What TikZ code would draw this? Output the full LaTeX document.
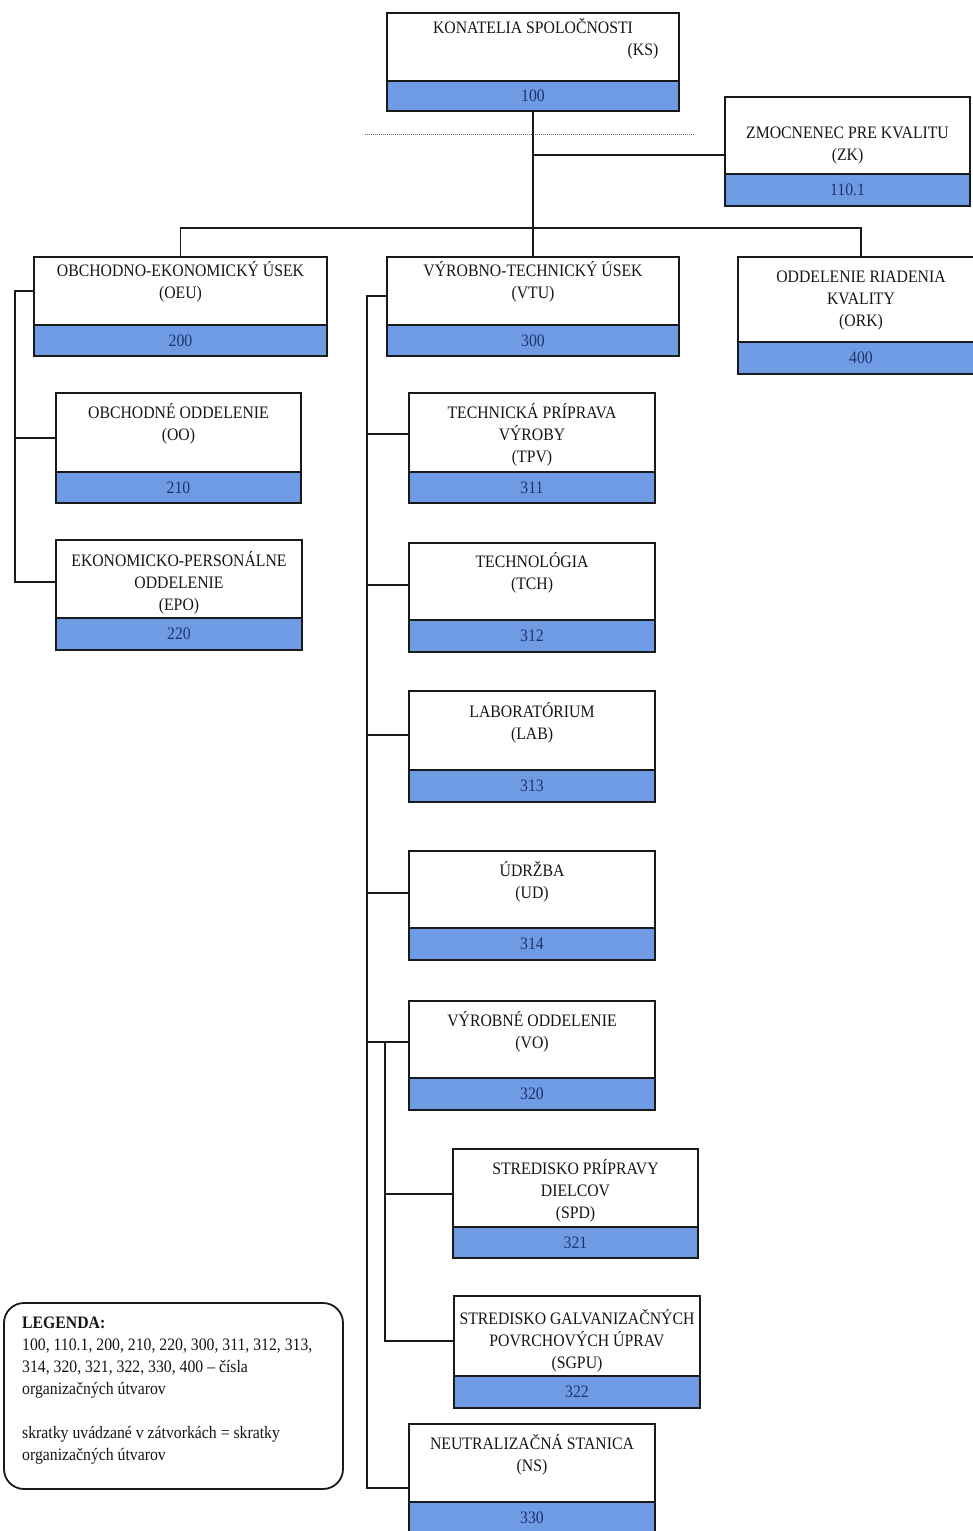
\documentclass[tikz,border=0pt]{standalone}
\usepackage{fontspec}
\setmainfont{Liberation Serif}[FakeStretch=0.9]
\definecolor{bandblue}{HTML}{6F9BE5}
\definecolor{numblue}{HTML}{1E346E}
\definecolor{inkc}{HTML}{1A1A1A}
\definecolor{txtc}{HTML}{151515}
\tikzset{
  wbox/.style={draw=inkc, line width=1.8pt, fill=white, inner sep=0pt},
  nbox/.style={draw=inkc, line width=1.8pt, fill=bandblue, inner sep=0pt, text=numblue,
    font=\fontsize{17.5}{22}\selectfont},
  lbl/.style={inner sep=0pt, text=txtc, font=\fontsize{17.5}{22}\selectfont},
  conn/.style={draw=inkc, line width=1.8pt},
  dotline/.style={draw=gray!80!black, line width=1pt, dash pattern=on 1pt off 1pt},
  legbox/.style={draw=inkc, line width=1.8pt, rounded corners=20pt, inner sep=0pt}
}
\newcommand\obox[9]{%
  \node[wbox, minimum width={#4-#2}, minimum height={#5-#3}] (#1) at ({(#2+#4)/2},{(#3+#5)/2}) {};
  \node[nbox, minimum width={#4-#2}, minimum height={#6-#5}] (#1n) at ({(#2+#4)/2},{(#5+#6)/2}) {#9};
  \node[lbl, anchor=base] (#1t) at ({(#2+#4)/2},#7) {\begin{tabular}[t]{@{}c@{}}#8\end{tabular}};
}
\begin{document}
\begin{tikzpicture}[x=1pt,y=-1pt]
\useasboundingbox (0,0) rectangle (973,1531);
\fill[white] (0,0) rectangle (973,1531);

% boxes
\node[wbox, minimum width=292, minimum height=68] (ks) at (533,47) {};
\node[nbox, minimum width=292, minimum height=30] (ksn) at (533,96) {100};
\node[lbl, anchor=base] (kst) at (533,33) {KONATELIA SPOLOČNOSTI};
\node[lbl, anchor=base] (kst2) at (643,55) {(KS)};

\obox{zk}{725}{97}{970}{174}{206}{138}{ZMOCNENEC PRE KVALITU\\(ZK)}{110.1}
\obox{oeu}{34}{257}{327}{325}{356}{276}{OBCHODNO-EKONOMICKÝ ÚSEK\\(OEU)}{200}
\obox{vtu}{387}{257}{679}{325}{356}{276}{VÝROBNO-TECHNICKÝ ÚSEK\\(VTU)}{300}
\obox{ork}{738}{257}{984}{342}{374}{282}{ODDELENIE RIADENIA\\KVALITY\\(ORK)}{400}
\obox{oo}{56}{393}{301}{472}{503}{418}{OBCHODNÉ ODDELENIE\\(OO)}{210}
\obox{epo}{56}{540}{302}{618}{650}{566}{EKONOMICKO-PERSONÁLNE\\ODDELENIE\\(EPO)}{220}
\obox{tpv}{409}{393}{655}{472}{503}{418}{TECHNICKÁ PRÍPRAVA\\VÝROBY\\(TPV)}{311}
\obox{tch}{409}{543}{655}{620}{652}{567}{TECHNOLÓGIA\\(TCH)}{312}
\obox{lab}{409}{691}{655}{770}{802}{717}{LABORATÓRIUM\\(LAB)}{313}
\obox{ud}{409}{851}{655}{928}{960}{876}{ÚDRŽBA\\(UD)}{314}
\obox{vo}{409}{1001}{655}{1078}{1110}{1026}{VÝROBNÉ ODDELENIE\\(VO)}{320}
\obox{spd}{453}{1149}{698}{1227}{1258}{1174}{STREDISKO PRÍPRAVY\\DIELCOV\\(SPD)}{321}
\obox{sgpu}{454}{1296}{700}{1376}{1408}{1324}{STREDISKO GALVANIZAČNÝCH\\POVRCHOVÝCH ÚPRAV\\(SGPU)}{322}
\obox{ns}{409}{1424}{655}{1502}{1533}{1449}{NEUTRALIZAČNÁ STANICA\\(NS)}{330}

% dotted line
\coordinate (dl) at (365,134);
\coordinate (dr) at (695,134);
\draw[dotline] (dl) -- (dr);

% top connectors
\coordinate (zkj) at (533,155);
\coordinate (bus) at (533,228);
\draw[conn] (ksn.south) -- (vtu.north);
\draw[conn] (zkj) -- (zk.west |- zkj);
\draw[conn] (oeu.north) |- (bus) -| (ork.north);

% OEU branch
\coordinate (la) at (15,291);
\coordinate (lb) at (15,438);
\coordinate (lc) at (15,582);
\draw[conn] (oeu.west |- la) -- (la) -- (lc) -- (epo.west |- lc);
\draw[conn] (lb) -- (oo.west |- lb);

% VTU branch
\coordinate (va) at (367,296);
\coordinate (vb) at (367,434);
\coordinate (vc) at (367,585);
\coordinate (vd) at (367,735);
\coordinate (ve) at (367,893);
\coordinate (vf) at (367,1042);
\coordinate (vg) at (367,1488);
\draw[conn] (vtu.west |- va) -- (va) -- (vg) -- (ns.west |- vg);
\draw[conn] (vb) -- (tpv.west |- vb);
\draw[conn] (vc) -- (tch.west |- vc);
\draw[conn] (vd) -- (lab.west |- vd);
\draw[conn] (ve) -- (ud.west |- ve);
\draw[conn] (vf) -- (vo.west |- vf);

% VO sub-branch
\coordinate (sa) at (385,1042);
\coordinate (sb) at (385,1194);
\coordinate (sc) at (385,1341);
\draw[conn] (sa) -- (sc) -- (sgpu.west |- sc);
\draw[conn] (sb) -- (spd.west |- sb);

% legend
\node[legbox, minimum width=339, minimum height=186] (leg) at (173.5,1396) {};
\node[lbl, anchor=base west] (legt) at (22,1328) {\begin{tabular}[t]{@{}l@{}}
\textbf{LEGENDA:}\\
100, 110.1, 200, 210, 220, 300, 311, 312, 313,\\
314, 320, 321, 322, 330, 400 – čísla\\
organizačných útvarov\\
\\
skratky uvádzané v zátvorkách = skratky\\
organizačných útvarov
\end{tabular}};
\end{tikzpicture}
\end{document}
